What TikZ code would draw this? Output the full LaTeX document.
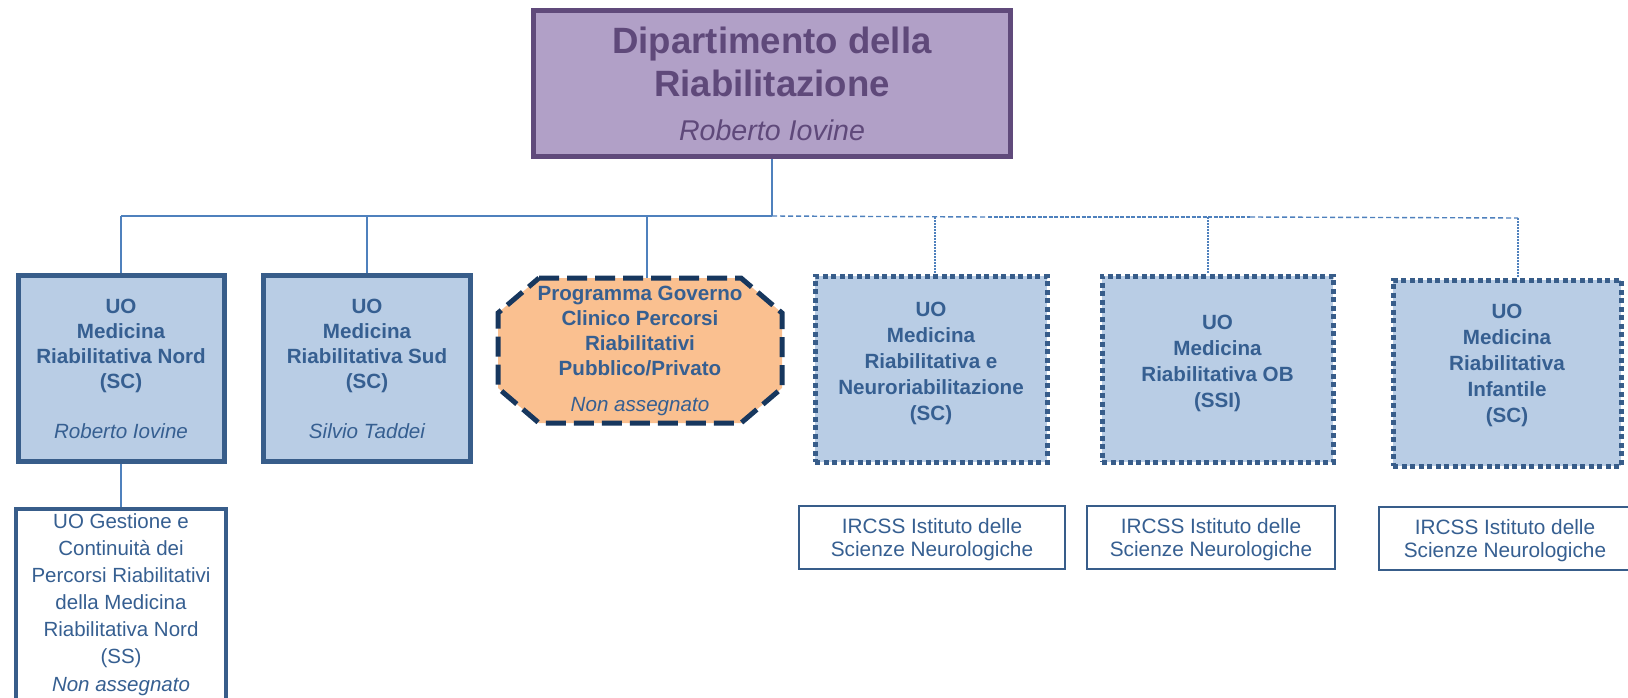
\documentclass[tikz,border=0pt]{standalone}
\usepackage{fontspec}
\setmainfont{Liberation Sans}
\definecolor{topfill}{HTML}{B1A0C7}
\definecolor{topborder}{HTML}{604A7B}
\definecolor{toptext}{HTML}{5F497A}
\definecolor{boxfill}{HTML}{B9CDE5}
\definecolor{boxborder}{HTML}{385D8A}
\definecolor{boxtext}{HTML}{365F91}
\definecolor{octfill}{HTML}{FAC090}
\definecolor{octborder}{HTML}{17375E}
\definecolor{lineblue}{HTML}{4F81BD}
\tikzset{
  conn/.style={draw=lineblue, line width=2.2pt},
  dbus/.style={draw=lineblue, line width=1.4pt, dash pattern=on 5pt off 3pt},
  dbusthick/.style={draw=lineblue, line width=2.4pt, dash pattern=on 4pt off 1.5pt},
  dotconn/.style={draw=lineblue, line width=1.2pt, dash pattern=on 1.5pt off 1.5pt},
  topbox/.style={rectangle, draw=topborder, fill=topfill, line width=5pt, minimum width=477pt, minimum height=146pt, inner sep=0pt, align=center, text=toptext, font=\fontsize{36.6}{43.4}\selectfont\bfseries},
  unitbox/.style={rectangle, draw=boxborder, fill=boxfill, line width=5pt, minimum width=206pt, minimum height=186pt, inner sep=0pt, align=center, text=boxtext, font=\fontsize{20.6}{25}\selectfont\bfseries},
  dotbox/.style={unitbox, line width=5pt, dash pattern=on 5pt off 3.5pt, font=\fontsize{20.6}{26}\selectfont\bfseries},
  octline/.style={draw=octborder, fill=octfill, line width=5pt, dash pattern=on 20pt off 8pt},
  octtext/.style={rectangle, minimum width=284pt, minimum height=145pt, inner sep=0pt, align=center, text=boxtext, font=\fontsize{20.6}{25}\selectfont\bfseries},
  irbox/.style={rectangle, draw=boxborder, fill=white, line width=2.2pt, minimum height=63pt, inner sep=0pt, align=center, text=boxtext, font=\fontsize{20.8}{23}\selectfont},
  subbox/.style={rectangle, draw=boxborder, fill=white, line width=4.5pt, minimum width=210pt, minimum height=211pt, inner sep=0pt, align=center, text=boxtext, font=\fontsize{20.5}{27}\selectfont}
}
\begin{document}
\begin{tikzpicture}[x=1pt,y=-1pt]
\useasboundingbox (0,0) rectangle (1628,697);
\clip (0,0) rectangle (1628,697);
\fill[white] (0,0) rectangle (1628,697);

% top box
\node[topbox] (top) at (772,83.5) {Dipartimento della\\Riabilitazione\\{\fontsize{28.6}{43.4}\selectfont\mdseries\itshape Roberto Iovine}};

% bus coordinates
\coordinate (bj) at (772,216);
\coordinate (bL) at (121,216);
\coordinate (b2) at (367,216);
\coordinate (b3) at (647,216);
\coordinate (bm1) at (988,217);
\coordinate (bm2) at (1250,217);
\coordinate (bR) at (1518,218);
\coordinate (b4) at (935,217);
\coordinate (b5) at (1208,217);

% octagon outline
\path[octline] (539,278) -- (741,278) -- (782,313) -- (782,388) -- (741,423) -- (539,423) -- (498,388) -- (498,313) -- cycle;

% unit boxes
\node[unitbox] (u1) at (121,368.5) {UO\\Medicina\\Riabilitativa Nord\\(SC)\\[25pt]{\mdseries\itshape Roberto Iovine}};
\node[unitbox, minimum width=207pt] (u2) at (367,368.5) {UO\\Medicina\\Riabilitativa Sud\\(SC)\\[25pt]{\mdseries\itshape Silvio Taddei}};
\node[octtext] (oct) at (640,350.5) {Programma Governo\\Clinico Percorsi\\Riabilitativi\\Pubblico/Privato\\[11pt]{\mdseries\itshape Non assegnato}};

\node[dotbox, minimum width=232pt] (d4) at (931,369) {UO\\Medicina\\Riabilitativa e\\Neuroriabilitazione\\(SC)\rule[-16pt]{0pt}{0pt}};
\node[dotbox, minimum width=231pt] (d5) at (1217.5,369) {UO\\Medicina\\Riabilitativa OB\\(SSI)\rule[-16pt]{0pt}{0pt}};
\node[dotbox, minimum width=228pt] (d6) at (1507,373) {UO\\Medicina\\Riabilitativa\\Infantile\\(SC)\rule[-20pt]{0pt}{0pt}};

% IRCSS boxes
\node[irbox, minimum width=266pt] (i4) at (932,537.5) {\rule{0pt}{19pt}IRCSS Istituto delle\\Scienze Neurologiche};
\node[irbox, minimum width=248pt] (i5) at (1211,537.5) {\rule{0pt}{19pt}IRCSS Istituto delle\\Scienze Neurologiche};
\node[irbox, minimum width=252pt] (i6) at (1505,538.5) {\rule{0pt}{19pt}IRCSS Istituto delle\\Scienze Neurologiche};

% sub box
\node[subbox] (sub) at (121,614.5) {UO Gestione e\\Continuità dei\\Percorsi Riabilitativi\\della Medicina\\Riabilitativa Nord\\(SS)\\[1pt]{\itshape Non assegnato}\rule[-23pt]{0pt}{0pt}};

% connectors
\draw[conn] (top.south) -- (bj);
\draw[conn] (bL) -- (bj);
\draw[conn] (bL) -- (u1.north);
\draw[conn] (b2) -- (u2.north);
\draw[conn] (b3) -- (b3 |- oct.north);
\draw[dbus] (bj) -- (bm1);
\draw[dbusthick] (bm1) -- (bm2);
\draw[dbus] (bm2) -- (bR);
\draw[dotconn] (b4) -- (b4 |- d4.north);
\draw[dotconn] (b5) -- (b5 |- d5.north);
\draw[dotconn] (bR) -- (bR |- d6.north);
\draw[conn] (u1.south) -- (sub.north);
\end{tikzpicture}
\end{document}
